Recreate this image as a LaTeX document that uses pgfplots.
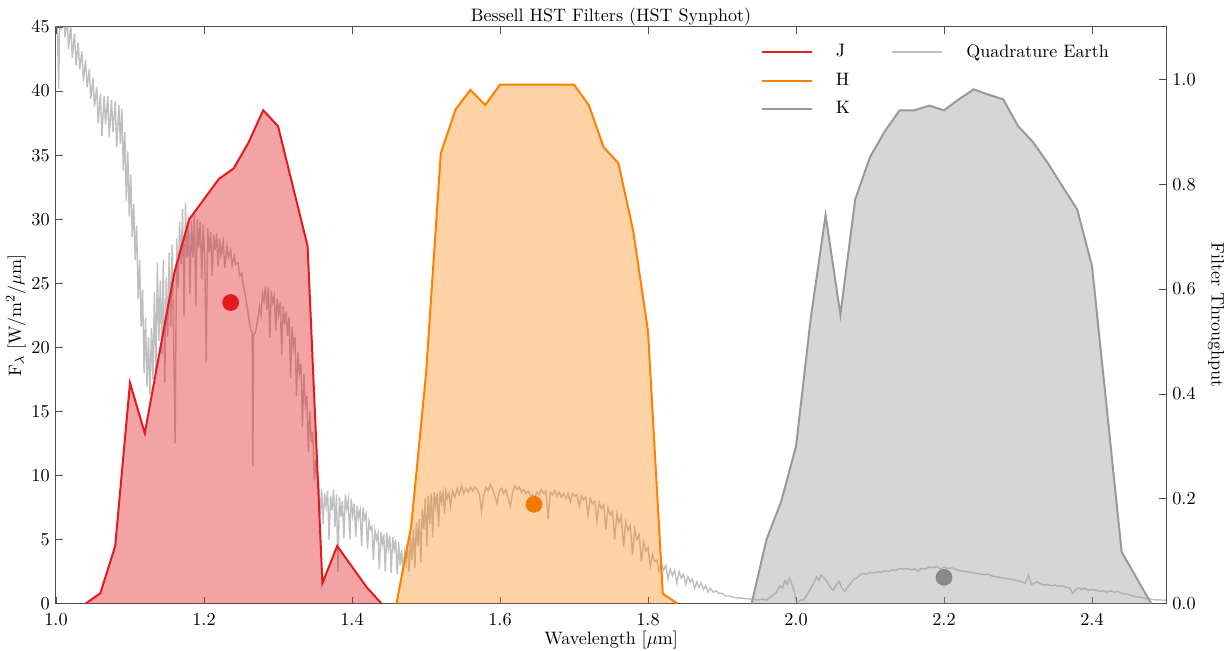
\documentclass[border=0pt]{standalone}
\usepackage{pgfplots}
\usepackage{pgfplotstable}
\pgfplotsset{compat=1.18}

\definecolor{jred}{HTML}{E41A1C}
\definecolor{horange}{HTML}{FF7F00}
\definecolor{kgray}{HTML}{999999}
\definecolor{specgray}{HTML}{808080}
\definecolor{spine}{HTML}{4D4D4D}

% Bessell filter throughput curves (wavelength in micron, throughput)
\pgfplotstableread{
x t
1.04 0
1.06 0.020
1.08 0.110
1.10 0.421
1.12 0.325
1.14 0.480
1.16 0.632
1.18 0.733
1.22 0.810
1.24 0.830
1.26 0.879
1.28 0.941
1.30 0.911
1.34 0.682
1.36 0.039
1.38 0.110
1.42 0.031
1.44 0
}\jband

\pgfplotstableread{
x t
1.46 0
1.48 0.148
1.50 0.438
1.52 0.859
1.54 0.943
1.56 0.980
1.58 0.951
1.60 0.990
1.70 0.990
1.72 0.951
1.74 0.871
1.76 0.840
1.78 0.711
1.80 0.520
1.82 0.019
1.84 0
}\hband

\pgfplotstableread{
x t
1.94 0
1.96 0.122
1.98 0.195
2.00 0.300
2.02 0.545
2.04 0.741
2.06 0.551
2.08 0.771
2.10 0.852
2.12 0.901
2.14 0.941
2.16 0.941
2.18 0.950
2.20 0.941
2.22 0.962
2.24 0.981
2.26 0.971
2.28 0.962
2.30 0.911
2.32 0.881
2.34 0.841
2.36 0.796
2.38 0.752
2.40 0.644
2.42 0.372
2.44 0.099
2.48 0
}\kband

% Quadrature Earth spectrum, F_lambda in W/m^2/micron
\pgfplotstableread{
x f
1.000 46.0
1.002 44.5
1.0036 40.2
1.005 46.0
1.007 44.8
1.010 46.5
1.012 44.2
1.015 45.6
1.017 43.3
1.020 45.2
1.022 42.6
1.025 44.5
1.027 42.0
1.030 43.8
1.032 41.7
1.035 43.1
1.037 40.8
1.040 42.4
1.042 40.3
1.045 41.7
1.047 39.4
1.050 41.0
1.052 38.8
1.055 40.3
1.057 37.5
1.060 39.8
1.062 36.5
1.065 39.6
1.067 37.4
1.070 39.6
1.072 36.4
1.075 39.3
1.077 36.8
1.080 39.2
1.082 35.6
1.085 38.9
1.087 35.9
1.089 38.6
1.091 33.8
1.093 36.8
1.095 31.4
1.097 35.3
1.099 30.2
1.101 33.5
1.103 28.6
1.105 31.2
1.107 26.8
1.109 29.5
1.111 23.8
1.113 26.8
1.115 21.6
1.117 24.5
1.119 18.0
1.121 22.3
1.123 16.9
1.125 20.8
1.127 16.3
1.129 21.5
1.131 17.5
1.133 24.3
1.135 18.0
1.137 26.6
1.139 20.5
1.141 25.2
1.143 19.5
1.145 26.8
1.147 17.2
1.149 25.5
1.151 20.8
1.153 27.4
1.155 21.6
1.157 28.0
1.159 20.5
1.161 12.5
1.163 28.5
1.165 24.6
1.167 29.8
1.169 26.5
1.171 30.8
1.173 22.4
1.175 31.3
1.177 27.0
1.179 30.2
1.181 24.2
1.183 29.8
1.185 27.0
1.187 30.4
1.189 23.2
1.191 30.0
1.193 27.8
1.195 29.8
1.197 25.3
1.199 29.6
1.201 27.0
1.203 18.8
1.205 29.3
1.207 27.4
1.209 29.0
1.211 25.6
1.213 28.8
1.215 27.6
1.217 28.9
1.219 26.3
1.221 28.5
1.223 27.2
1.226 28.3
1.228 26.2
1.231 27.9
1.233 27.0
1.236 27.6
1.238 26.4
1.241 27.1
1.243 26.5
1.246 26.6
1.248 25.6
1.251 25.8
1.253 24.8
1.255 24.4
1.257 23.6
1.259 22.9
1.261 22.1
1.263 21.4
1.265 21.2
1.266 10.7
1.267 21.0
1.269 21.1
1.271 21.6
1.273 22.4
1.275 23.2
1.277 22.5
1.279 24.2
1.281 23.6
1.283 24.8
1.285 22.9
1.287 24.7
1.289 20.8
1.291 24.4
1.293 23.5
1.295 24.0
1.297 21.3
1.299 23.8
1.301 22.6
1.303 23.5
1.305 19.4
1.307 23.2
1.309 21.8
1.311 22.8
1.313 20.9
1.315 22.4
1.317 17.6
1.319 21.6
1.321 20.0
1.323 20.8
1.325 16.2
1.327 19.6
1.329 18.0
1.331 18.7
1.333 13.8
1.335 17.9
1.337 15.5
1.339 16.2
1.341 11.8
1.343 15.0
1.345 12.6
1.347 13.4
1.349 9.6
1.351 11.2
1.353 9.8
1.355 9.6
1.357 6.8
1.359 8.9
1.361 6.2
1.363 8.6
1.365 7.6
1.367 8.8
1.369 5.0
1.371 8.4
1.373 7.3
1.375 8.9
1.377 6.0
1.379 8.5
1.381 2.5
1.383 8.3
1.385 6.8
1.387 8.0
1.389 5.1
1.391 8.5
1.393 7.4
1.395 8.1
1.397 5.0
1.399 8.2
1.401 6.9
1.403 7.8
1.405 5.2
1.407 7.6
1.409 6.7
1.411 7.3
1.413 4.5
1.415 7.5
1.417 6.6
1.419 7.0
1.421 4.3
1.423 6.4
1.425 5.8
1.427 6.0
1.429 3.4
1.431 5.7
1.433 5.0
1.435 5.5
1.437 2.7
1.439 5.6
1.441 4.6
1.443 5.4
1.445 2.5
1.447 5.5
1.449 4.3
1.451 5.3
1.453 2.4
1.455 5.2
1.457 4.2
1.459 5.0
1.461 2.3
1.463 4.8
1.465 3.0
1.467 4.2
1.469 2.4
1.471 4.0
1.473 3.2
1.475 4.6
1.477 2.5
1.479 5.2
1.481 3.4
1.483 5.8
1.485 2.8
1.487 6.3
1.489 4.5
1.491 6.6
1.493 3.2
1.495 7.4
1.497 5.8
1.499 8.2
1.501 4.4
1.503 8.4
1.505 6.2
1.507 8.6
1.509 5.2
1.511 8.7
1.513 7.6
1.515 8.6
1.517 6.0
1.519 8.8
1.521 7.9
1.523 8.7
1.525 7.0
1.527 8.8
1.529 8.2
1.531 8.6
1.533 7.6
1.536 8.8
1.539 8.3
1.542 9.0
1.545 8.5
1.548 9.2
1.551 8.6
1.554 9.0
1.557 8.7
1.560 9.1
1.563 8.8
1.566 9.1
1.569 8.9
1.572 8.6
1.575 7.2
1.578 8.4
1.581 9.1
1.584 8.8
1.587 9.3
1.590 8.9
1.593 8.4
1.596 7.8
1.599 8.8
1.602 9.0
1.605 8.6
1.608 8.9
1.611 8.2
1.614 7.6
1.617 8.7
1.620 9.2
1.623 8.9
1.626 9.1
1.629 8.7
1.632 8.9
1.635 8.6
1.638 8.8
1.641 8.4
1.644 8.5
1.647 8.3
1.650 8.7
1.653 8.5
1.656 8.9
1.659 8.6
1.662 8.8
1.665 6.6
1.668 8.7
1.671 8.5
1.674 8.8
1.677 8.4
1.680 8.7
1.683 8.3
1.686 8.6
1.689 8.2
1.692 8.6
1.695 7.9
1.698 8.6
1.701 8.4
1.704 8.5
1.707 7.6
1.710 8.4
1.713 8.1
1.716 8.3
1.719 6.9
1.722 8.2
1.725 7.8
1.728 8.0
1.731 6.4
1.734 7.9
1.737 7.4
1.740 7.7
1.743 5.8
1.746 7.5
1.749 6.9
1.752 7.2
1.755 5.0
1.758 7.0
1.761 6.3
1.764 6.8
1.767 4.4
1.770 6.4
1.773 5.7
1.776 6.1
1.779 3.8
1.782 5.8
1.785 5.0
1.788 5.4
1.791 3.3
1.794 4.8
1.797 4.1
1.800 4.4
1.803 2.9
1.806 3.8
1.809 3.3
1.812 3.4
1.815 2.5
1.818 3.2
1.821 2.6
1.824 3.0
1.827 1.9
1.830 2.7
1.833 2.2
1.836 2.6
1.839 1.6
1.842 2.5
1.845 2.0
1.848 2.3
1.851 1.5
1.854 2.1
1.857 1.7
1.860 1.9
1.863 1.2
1.866 1.7
1.869 1.3
1.872 1.6
1.875 1.1
1.878 1.4
1.881 0.9
1.884 1.2
1.888 0.9
1.892 1.0
1.896 0.8
1.900 0.8
1.905 0.6
1.910 0.6
1.915 0.5
1.920 0.45
1.925 0.45
1.930 0.4
1.935 0.38
1.940 0.35
1.945 0.32
1.950 0.3
1.955 0.35
1.960 0.28
1.965 0.5
1.970 0.7
1.974 0.9
1.978 1.4
1.982 1.2
1.985 1.8
1.988 1.5
1.991 2.0
1.994 1.6
1.997 1.1
2.000 0.2
2.003 0.15
2.007 0.3
2.010 0.25
2.014 0.6
2.017 0.9
2.020 1.2
2.024 1.6
2.028 2.1
2.031 1.8
2.034 2.25
2.038 2.0
2.042 1.7
2.046 1.3
2.050 1.05
2.054 1.4
2.058 1.75
2.062 1.2
2.066 0.95
2.070 1.3
2.074 1.6
2.078 1.9
2.082 2.0
2.086 2.2
2.090 2.35
2.095 2.3
2.100 2.45
2.105 2.4
2.110 2.5
2.115 2.45
2.120 2.55
2.125 2.5
2.130 2.65
2.135 2.6
2.140 2.75
2.145 2.7
2.150 2.75
2.155 2.65
2.160 2.7
2.165 2.55
2.170 2.75
2.175 2.7
2.180 2.85
2.185 2.8
2.190 2.9
2.195 2.7
2.200 2.85
2.205 2.75
2.210 2.8
2.215 2.7
2.220 2.6
2.225 2.55
2.230 2.5
2.235 2.45
2.240 2.4
2.245 2.35
2.250 2.3
2.255 2.25
2.260 2.3
2.265 2.15
2.270 2.1
2.275 2.05
2.280 2.0
2.285 1.95
2.290 1.9
2.295 1.85
2.300 1.8
2.305 1.7
2.310 1.6
2.314 2.25
2.318 1.5
2.322 1.6
2.326 1.7
2.330 1.55
2.335 1.45
2.340 1.5
2.345 1.4
2.350 1.45
2.355 1.35
2.360 1.4
2.365 1.3
2.370 1.2
2.374 0.8
2.378 1.1
2.382 1.25
2.386 1.1
2.390 1.2
2.395 1.05
2.400 1.1
2.405 1.05
2.410 0.95
2.415 1.0
2.420 0.9
2.425 1.0
2.430 0.9
2.435 0.95
2.440 0.8
2.445 0.75
2.450 0.7
2.455 0.6
2.460 0.55
2.465 0.5
2.470 0.45
2.475 0.4
2.480 0.35
2.485 0.3
2.490 0.3
2.495 0.28
2.500 0.28
}\earth

\begin{document}
\fontsize{10.8}{13}\selectfont
\begin{tikzpicture}
\pgfplotsset{
  panel/.style={
    scale only axis, width=666pt, height=346pt,
    xmin=1.0, xmax=2.5,
    tick align=inside, major tick length=4pt,
    axis line style={spine, line width=0.6pt},
    tick style={spine, line width=0.5pt},
    clip=true,
  },
}
\begin{axis}[panel, name=main,
  ymin=0, ymax=45,
  ytick={0,5,10,15,20,25,30,35,40,45},
  ytick pos=left,
  xtick={1.0,1.2,1.4,1.6,1.8,2.0,2.2,2.4},
  xtick pos=both,
  xticklabel style={yshift=-2.5pt, /pgf/number format/fixed, /pgf/number format/fixed zerofill, /pgf/number format/precision=1},
  title={Bessell HST Filters (HST Synphot)},
  title style={yshift=-9pt},
  xlabel={Wavelength [$\mu$m]},
  xlabel style={yshift=4.5pt},
  ylabel={F$_\lambda$ [W/m$^2$/$\mu$m]},
  ylabel shift=-4pt,
]
% band-averaged fluxes
\addplot[only marks, mark=*, mark size=4.8pt, mark options={draw=jred, fill=jred}] coordinates {(1.236,23.5)};
\addplot[only marks, mark=*, mark size=4.8pt, mark options={draw=horange!90!black, fill=horange!93!black}] coordinates {(1.646,7.75)};
\addplot[only marks, mark=*, mark size=4.8pt, mark options={draw=specgray!90!black, fill=specgray}] coordinates {(2.2,2.05)};
% spectrum
\addplot[specgray, draw opacity=0.5, line width=0.85pt] table[x=x, y=f] {\earth};
\end{axis}

\begin{axis}[panel,
  ymin=0, ymax=1.1,
  axis y line*=right, axis x line=none,
  ytick={0,0.2,0.4,0.6,0.8,1.0},
  yticklabel style={/pgf/number format/fixed, /pgf/number format/fixed zerofill, /pgf/number format/precision=1},
  ylabel={Filter Throughput},
  ylabel style={rotate=180},
  legend columns=2,
  legend cell align=left,
  legend image code/.code={\draw[#1] (0pt,0pt) -- (30pt,0pt);},
  legend style={draw=none, fill=none, at={(0.63,0.982)}, anchor=north west,
    row sep=4pt,
    /tikz/every odd column/.append style={column sep=12pt},
    /tikz/every even column/.append style={column sep=23pt}},
]
\addplot[draw=none, fill=jred, fill opacity=0.4, forget plot] table[x=x, y=t] {\jband};
\addplot[jred, line width=1.2pt, forget plot] table[x=x, y=t] {\jband};
\addplot[draw=none, fill=horange, fill opacity=0.35, forget plot] table[x=x, y=t] {\hband};
\addplot[horange, line width=1.2pt, forget plot] table[x=x, y=t] {\hband};
\addplot[draw=none, fill=kgray, fill opacity=0.4, forget plot] table[x=x, y=t] {\kband};
\addplot[kgray, line width=1.2pt, forget plot] table[x=x, y=t] {\kband};
\addlegendimage{jred, line width=1.2pt}
\addlegendentry{J}
\addlegendimage{specgray!50, line width=0.8pt}
\addlegendentry{Quadrature Earth}
\addlegendimage{horange, line width=1.2pt}
\addlegendentry{H}
\addlegendimage{empty legend}
\addlegendentry{}
\addlegendimage{kgray, line width=1.2pt}
\addlegendentry{K}
\end{axis}
\pgfresetboundingbox
\path ([xshift=-33.6pt,yshift=-28.4pt]main.south west) rectangle ([xshift=35.4pt,yshift=16.2pt]main.north east);
\end{tikzpicture}
\end{document}
